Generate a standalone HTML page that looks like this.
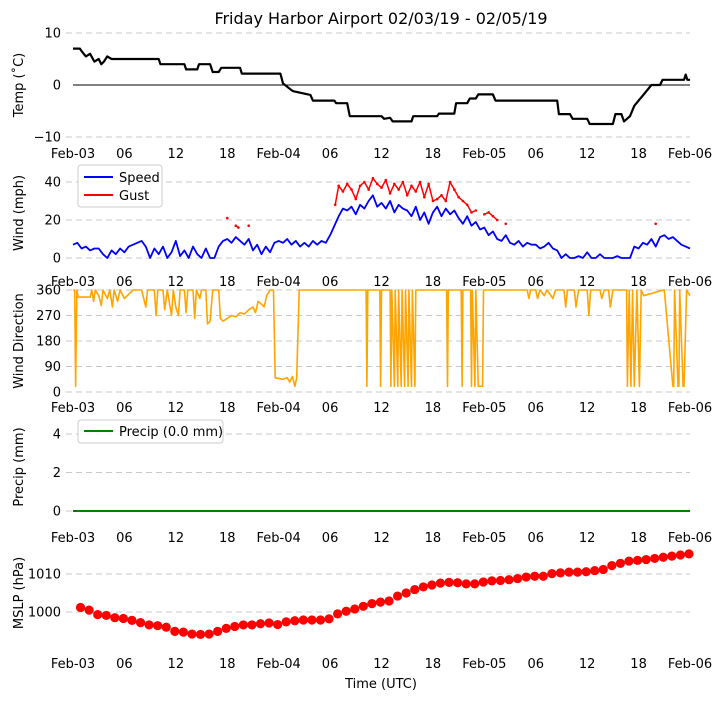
<!DOCTYPE html>
<html><head><meta charset="utf-8"><style>
body{margin:0;background:#fff;}
svg text{font-family:"DejaVu Sans","Liberation Sans",sans-serif;fill:#000;}
</style></head><body>
<svg id="c" width="721" height="700" viewBox="0 0 721 700">
<text x="381" y="24" font-size="16" text-anchor="middle">Friday Harbor Airport 02/03/19 - 02/05/19</text>
<text transform="translate(23,85) rotate(-90)" font-size="13" text-anchor="middle">Temp (˚C)</text>
<text transform="translate(23,213) rotate(-90)" font-size="13" text-anchor="middle">Wind (mph)</text>
<text transform="translate(23,341) rotate(-90)" font-size="13" text-anchor="middle">Wind Direction</text>
<text transform="translate(23,467) rotate(-90)" font-size="13" text-anchor="middle">Precip (mm)</text>
<text transform="translate(23,593) rotate(-90)" font-size="13" text-anchor="middle">MSLP (hPa)</text>
<text x="381" y="688" font-size="13" text-anchor="middle">Time (UTC)</text>
</svg>
<script>
const xTickLabels = ["Feb-03","06","12","18","Feb-04","06","12","18","Feb-05","06","12","18","Feb-06"];
const tempTicks = [10,0,-10];
const windTicks = [0,20,40];
const dirTicks = [0,90,180,270,360];
const precipTicks = [0,2,4];
const mslpTicks = [1000,1010];

const tempT = [0,0.8,1,1.5,2,2.5,3,3.3,3.6,4,4.5,10,10.2,13,13.2,14.5,14.7,16,16.3,17,17.3,19.5,19.7,24.2,24.5,25.5,25.7,27.7,28,30.5,30.7,32,32.3,36,36.3,37,37.3,39.5,39.7,42.5,42.7,44.5,44.7,46,46.3,47,47.3,49,49.3,56.5,56.7,58,58.3,60,60.3,63,63.3,64,64.3,65,65.5,66,66.5,67,67.5,68.5,68.8,71.3,71.5,71.7,72];
const tempV = [7,7,6.5,5.5,6,4.5,5,4,4.5,5.5,5,5,4,4,3,3,4,4,2.5,2.5,3.3,3.3,2.2,2.2,0.3,-1,-1.2,-1.9,-3,-3,-3.5,-3.5,-6,-6,-6.5,-6.3,-7,-7,-6,-6,-5.5,-5.5,-3.5,-3.5,-2.6,-2.6,-1.8,-1.8,-3,-3,-5.6,-5.6,-6.5,-6.5,-7.5,-7.5,-5.6,-5.6,-7,-6,-4,-3,-2,-1,0,0,1,1,2,1,1];

const speedV = [7,8,5,6,4,5,5,2, 0,4,2,5,3,6,7,8,9,6, 0,5,2,6,0,3,9,1,4,0,6,2,0,5, 0,0,6,9, 10,8,11,9,7,10, 4,7,2,6,3,8, 9,8,10,7,9,6, 8,6,9,7, 9,8,12,17,22,26, 25,27,23,28,26,30,33,27, 29,26,30,24,28,26, 25,22,27,20,24,18, 24,27,22,26,23,25, 21,18,22,17,19,15, 16,12,14,10,9,12, 8,7,9,6,8,7, 7,5,6,8,5,4, 0,2,0,0,1,0,3,0,0,2,0,0,0,1,0,0,0,6, 5,8,7,10,6,11, 12,10,11,9,7,6, 5];

const gustT = [18,19,19.3,20.5,30.6,31,31.5,32,32.5,33,33.5,34,34.5,35,35.5,36,36.5,37,37.5,38,38.5,39,39.5,40,40.5,41,41.5,42,42.5,43,43.5,44,44.5,45,45.5,46,46.5,47,48,48.5,49,49.5,50.5,68];
const gustV = [21,17,16,17,28,38,35,39,36,31,38,40,36,42,39,37,41,34,39,36,40,33,38,35,40,32,39,30,31,33,30,40,36,32,30,28,24,25,23,24,22,20,18,18];

const dirT = [0,0.2,0.3,0.45,0.6,2,2.2,2.4,2.6,3,3.3,3.5,4,4.3,4.6,4.8,5.2,5.5,6,6.5,7,8,8.5,8.7,9.5,9.7,9.9,10.5,10.7,11,11.5,11.7,12,12.3,12.5,13,13.2,13.4,14,14.2,14.4,14.8,15,15.5,15.7,16,16.3,17,17.2,17.5,18,18.5,19,19.5,20,20.5,21,21.3,21.6,22,22.3,22.6,23,23.4,23.6,24.5,25,25.3,25.6,25.9,26.1,26.4,34.2,34.3,34.4,35.8,35.9,36,37,37.1,37.2,37.5,37.6,37.9,38,38.3,38.4,38.7,38.8,39.1,39.2,39.5,39.6,39.9,40,43.6,43.7,43.8,45.3,45.4,45.5,46.4,46.5,46.6,46.9,47,47.3,47.8,47.9,53,53.2,53.4,54,54.2,54.5,55,55.3,56,56.3,57.3,57.5,57.7,58.5,58.7,59,60,60.2,60.4,61.5,61.7,62,62.5,62.7,63,64.6,64.7,64.9,65.1,65.3,65.5,65.8,66.1,66.3,66.6,68.9,69,70,70.1,70.2,70.6,70.7,70.8,71.2,71.3,71.6,72];
const dirV = [360,360,20,360,335,335,360,320,360,340,305,360,330,360,300,360,320,360,330,345,360,360,300,360,360,270,360,360,290,360,270,360,300,270,360,360,280,360,360,260,360,330,360,360,240,250,360,360,260,250,260,270,265,280,275,290,300,280,320,310,300,340,360,360,50,45,50,35,55,20,50,360,360,20,360,360,20,360,360,20,360,20,360,20,360,20,360,20,360,20,360,20,360,20,360,360,20,360,360,20,360,360,20,360,20,360,20,20,360,360,330,360,360,330,360,340,360,330,360,360,300,360,360,300,360,360,270,360,360,330,360,360,300,360,360,20,360,20,360,20,360,20,360,340,360,360,20,20,360,20,20,360,20,20,360,340,335];

const precipV = [0,0,0,0,0,0,0,0,0,0,0,0,0,0,0,0,0,0,0,0,0,0,0,0,0,0,0,0,0,0,0,0,0,0,0,0,0,0,0,0,0,0,0,0,0,0,0,0,0,0,0,0,0,0,0,0,0,0,0,0,0,0,0,0,0,0,0,0,0,0,0,0,0];

const mslpV = [1001.2,1000.5,999.3,999.1,998.5,998.3,997.8,997.2,996.6,996.4,996.0,994.9,994.7,994.2,994.1,994.2,994.9,995.7,996.2,996.6,996.6,996.9,997.1,996.7,997.4,997.7,997.9,997.9,997.9,998.2,999.5,1000.2,1000.8,1001.5,1002.2,1002.6,1002.9,1004.2,1005.0,1005.9,1006.6,1007.1,1007.6,1007.8,1007.7,1007.4,1007.4,1007.9,1008.2,1008.3,1008.5,1008.8,1009.2,1009.4,1009.4,1010.1,1010.3,1010.5,1010.5,1010.6,1010.9,1011.2,1012.2,1012.8,1013.4,1013.6,1013.8,1014.1,1014.4,1014.7,1015.0,1015.3];

const svg = document.getElementById('c');
const NS = 'http://www.w3.org/2000/svg';
function mk(tag, attrs){const e=document.createElementNS(NS,tag);for(const k in attrs)e.setAttribute(k,attrs[k]);svg.appendChild(e);return e;}
const X0=73, X1=690, HRS=72;
const x = h => X0 + h*(X1-X0)/HRS;
const yT = v => 85 - v*5.2;
const yW = v => 258 - v*1.9;
const yD = v => 392 - v*(102/360);
const yP = v => 511 - v*19.25;
const yM = v => 612 - (v-1000)*3.8;
const fmt = v => v<0 ? '\u2212'+Math.abs(v) : String(v);

function grid(ticks, yf, name, skipZero){
  ticks.forEach(t=>{
    if(!(skipZero && t===0)){
      const g=mk('line',{x1:66,x2:690,y1:yf(t),y2:yf(t),stroke:'#c8c8c8','stroke-dasharray':'6,4','stroke-width':1});
      
      
    }
    const tx=mk('text',{x:61,y:yf(t)+4.5,'font-size':13,'text-anchor':'end'});
    tx.textContent=fmt(t);
    
    
  });
}
grid(tempTicks,yT,'temp',true);
grid(windTicks,yW,'wind',false);
grid(dirTicks,yD,'direction',false);
grid(precipTicks,yP,'precip',false);
grid(mslpTicks,yM,'mslp',false);

const zl=mk('line',{x1:73,x2:690,y1:yT(0),y2:yT(0),stroke:'#000','stroke-width':1});



[158,286,412,542,668].forEach((yy,row)=>{
  xTickLabels.forEach((lab,i)=>{
    const t=mk('text',{x:x(i*6),y:yy,'font-size':13,'text-anchor':'middle'});
    t.textContent=lab;
    
    
  });
});

function poly(ts, vs, yf, color, w, name){
  const pts=ts.map((t,i)=>x(t).toFixed(1)+','+yf(vs[i]).toFixed(1)).join(' ');
  const p=mk('polyline',{points:pts,fill:'none',stroke:color,'stroke-width':w,'stroke-linejoin':'round'});
  
  
}
poly(tempT,tempV,yT,'#000',2.2,'temperature-line');
poly(speedV.map((v,i)=>i*0.5),speedV,yW,'#0000ff',1.8,'wind-speed-line');
poly(dirT,dirV,yD,'#ffa500',1.6,'wind-direction-line');
poly(precipV.map((v,i)=>i),precipV,yP,'#008000',2,'precip-line');

for(let i=0;i<gustT.length;i++){
  if(i>0 && gustT[i]-gustT[i-1]<=0.6){
    const l=mk('line',{x1:x(gustT[i-1]),y1:yW(gustV[i-1]),x2:x(gustT[i]),y2:yW(gustV[i]),stroke:'#ff0000','stroke-width':1.5});
    
    
  }
  const d=mk('circle',{cx:x(gustT[i]),cy:yW(gustV[i]),r:1.3,fill:'#ff0000'});
  
  
}

mslpV.forEach((v,i)=>{
  const c=mk('circle',{cx:x(i+0.88),cy:yM(v),r:4.6,fill:'#ff0000'});
  
  
});

const lb=mk('rect',{x:78,y:165,width:84,height:42,rx:3,fill:'#fff','fill-opacity':0.85,stroke:'#cccccc'});


const ls=mk('line',{x1:84,x2:113,y1:177,y2:177,stroke:'#0000ff','stroke-width':2});


const lst=mk('text',{x:119,y:182,'font-size':13});
lst.textContent='Speed';


const lg=mk('line',{x1:84,x2:113,y1:195,y2:195,stroke:'#ff0000','stroke-width':2});


const lgt=mk('text',{x:119,y:200,'font-size':13});
lgt.textContent='Gust';



const pb=mk('rect',{x:78,y:420,width:145,height:23,rx:3,fill:'#fff','fill-opacity':0.85,stroke:'#cccccc'});


const ps=mk('line',{x1:84,x2:113,y1:431,y2:431,stroke:'#008000','stroke-width':2});


const pt=mk('text',{x:119,y:436,'font-size':13});
pt.textContent='Precip (0.0 mm)';


</script>
</body></html>
